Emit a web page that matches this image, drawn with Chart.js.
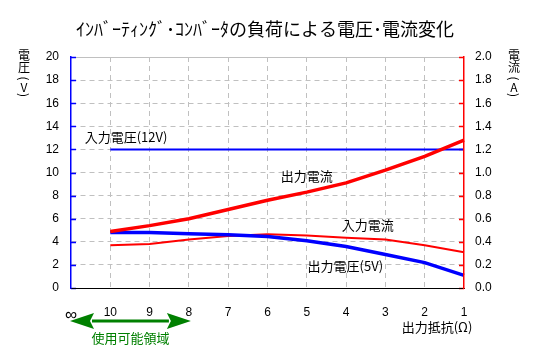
<!DOCTYPE html>
<html>
<head>
<meta charset="utf-8">
<script src="https://cdn.jsdelivr.net/npm/chart.js@4/dist/chart.umd.min.js"></script>
<style>
  html, body { margin: 0; padding: 0; background: #fff; }
</style>
</head>
<body>
<canvas id="chart" width="537" height="346"></canvas>
<script>
// load resistance (ohms) along the x axis, ∞ = no load
const LOADS = ['∞', '10', '9', '8', '7', '6', '5', '4', '3', '2', '1'];
// volts (left axis)
const V_IN = [null, 12, 12, 12, 12, 12, 12, 12, 12, 12, 12];
const V_OUT = [null, 4.8, 4.8, 4.7, 4.6, 4.45, 4.1, 3.6, 2.9, 2.2, 1.1];
// amps (right axis)
const I_OUT = [null, 0.49, 0.54, 0.6, 0.68, 0.76, 0.83, 0.91, 1.02, 1.14, 1.28];
const I_IN = [null, 0.37, 0.38, 0.42, 0.45, 0.465, 0.455, 0.435, 0.42, 0.37, 0.31];

const TITLE = 'ｲﾝﾊﾞｰﾃｨﾝｸﾞ･ｺﾝﾊﾞｰﾀの負荷による電圧･電流変化';
const V_TITLE = ['電', '圧', '(', 'V', ')'];
const I_TITLE = ['電', '流', '(', 'A', ')'];
const X_TITLE = '出力抵抗(Ω)';
const RANGE_NOTE = '使用可能領域';

// series labels placed on the chart: [text, x index, volts]
const TAGS = [
  ['入力電圧(12V)', 1.4, 13.1],
  ['出力電流', 6.0, 9.7],
  ['入力電流', 7.55, 5.45],
  ['出力電圧(5V)', 6.98, 1.9],
];

const BLUE = '#0000ff';
const RED = '#ff0000';
const GREEN = '#008000';
const GRID = '#c0c0c0';
const JP = '"Noto Sans CJK JP", sans-serif';
const NUM = '"Liberation Sans", Arial, sans-serif';

function seg(ctx, x1, y1, x2, y2) {
  ctx.beginPath();
  ctx.moveTo(x1, y1);
  ctx.lineTo(x2, y2);
  ctx.stroke();
}

// stacked vertical axis caption, brackets turned sideways
const V_ROWS = [55, 67.5, 78.5, 87.5, 95];
function vText(ctx, chars, cx) {
  chars.forEach((ch, i) => {
    ctx.save();
    ctx.translate(cx, V_ROWS[i]);
    if (/[()]/.test(ch)) ctx.rotate(Math.PI / 2);
    ctx.fillText(ch, 0, 0);
    ctx.restore();
  });
}

const overlay = {
  id: 'overlay',
  beforeDatasetsDraw(chart) {
    const { ctx, chartArea: a, scales } = chart;
    ctx.save();
    ctx.lineWidth = 1;
    ctx.strokeStyle = GRID;
    seg(ctx, a.left, a.top + 0.5, a.right, a.top + 0.5);

    // short inward ticks on both value axes
    ctx.lineWidth = 1.5;
    ctx.strokeStyle = BLUE;
    scales.y.ticks.forEach((t) => {
      const y = Math.round(scales.y.getPixelForValue(t.value)) + 0.5;
      seg(ctx, a.left, y, a.left + 5, y);
    });
    ctx.strokeStyle = RED;
    scales.y1.ticks.forEach((t) => {
      const y = Math.round(scales.y1.getPixelForValue(t.value)) + 0.5;
      seg(ctx, a.right - 5, y, a.right, y);
    });
    ctx.restore();
  },
  afterDraw(chart) {
    const { ctx, scales } = chart;
    const x = scales.x;
    const y = scales.y;
    ctx.save();
    ctx.fillStyle = '#000';
    ctx.textAlign = 'center';
    ctx.textBaseline = 'middle';

    // title
    ctx.font = '18px ' + JP;
    ctx.fillText(TITLE, 265, 29);

    // axis captions
    ctx.font = '12px ' + JP;
    vText(ctx, V_TITLE, 24);
    vText(ctx, I_TITLE, 514);
    ctx.font = '13px ' + JP;
    ctx.fillText(X_TITLE, 437, 327);

    // series tags
    TAGS.forEach(([txt, xi, v]) => {
      ctx.fillText(txt, x.getPixelForValue(xi), y.getPixelForValue(v));
    });

    // usable range arrow, ∞ .. 8 ohm
    const xa = x.getPixelForValue(0) - 1;
    const xb = x.getPixelForValue(3) + 2;
    const ya = 321;
    const hl = 24, hw = 8;
    ctx.fillStyle = GREEN;
    ctx.fillRect(xa + hl - 2, ya - 1.5, xb - xa - 2 * hl + 4, 3);
    ctx.beginPath();
    ctx.moveTo(xa, ya);
    ctx.lineTo(xa + hl, ya - hw);
    ctx.lineTo(xa + hl - 4, ya);
    ctx.lineTo(xa + hl, ya + hw);
    ctx.closePath();
    ctx.fill();
    ctx.beginPath();
    ctx.moveTo(xb, ya);
    ctx.lineTo(xb - hl, ya - hw);
    ctx.lineTo(xb - hl + 4, ya);
    ctx.lineTo(xb - hl, ya + hw);
    ctx.closePath();
    ctx.fill();
    ctx.fillText(RANGE_NOTE, (xa + xb) / 2, 338);
    ctx.restore();
  },
};

const lastIdx = LOADS.length - 1;

new Chart(document.getElementById('chart').getContext('2d'), {
  type: 'line',
  data: {
    labels: LOADS,
    datasets: [
      { label: '出力電流', data: I_OUT, yAxisID: 'y1', borderColor: RED, borderWidth: 3.5 },
      { label: '出力電圧', data: V_OUT, yAxisID: 'y', borderColor: BLUE, borderWidth: 3.5 },
      { label: '入力電流', data: I_IN, yAxisID: 'y1', borderColor: RED, borderWidth: 2 },
      { label: '入力電圧', data: V_IN, yAxisID: 'y', borderColor: BLUE, borderWidth: 2 },
    ],
  },
  options: {
    responsive: false,
    devicePixelRatio: 1,
    animation: false,
    events: [],
    layout: { padding: { top: 57, left: 0, right: 0, bottom: 0 } },
    elements: {
      point: { radius: 0 },
      line: { tension: 0, fill: false, borderCapStyle: 'butt' },
    },
    plugins: {
      legend: { display: false },
      tooltip: { enabled: false },
      title: { display: false },
    },
    scales: {
      x: {
        type: 'category',
        offset: false,
        afterFit: (s) => { s.height = 58; },
        grid: {
          color: (c) => (c.index === 0 || c.index === lastIdx ? 'rgba(0,0,0,0)' : GRID),
          drawTicks: false,
        },
        border: { color: '#000', width: 1, dash: [5, 4], z: 1 },
        ticks: {
          color: '#000',
          padding: 17,
          maxRotation: 0,
          autoSkip: false,
          font: (c) => (c.index === 0 ? { family: NUM, size: 17 } : { family: NUM, size: 12 }),
        },
      },
      y: {
        position: 'left',
        min: 0,
        max: 20,
        afterFit: (s) => { s.width = 71; },
        grid: {
          color: (c) => (c.index === 0 || c.index === 10 ? 'rgba(0,0,0,0)' : GRID),
          drawTicks: false,
        },
        border: { color: BLUE, width: 1.5, dash: [5, 4], z: 1 },
        ticks: { stepSize: 2, color: '#000', padding: 12, font: { family: NUM, size: 12 } },
      },
      y1: {
        position: 'right',
        min: 0,
        max: 2,
        afterFit: (s) => { s.width = 73; },
        grid: { drawOnChartArea: false, drawTicks: false },
        border: { color: RED, width: 1.5, z: 1 },
        ticks: {
          stepSize: 0.2,
          color: '#000',
          padding: 11,
          font: { family: NUM, size: 12 },
          callback: (v) => Number(v).toFixed(1),
        },
      },
    },
  },
  plugins: [overlay],
});
</script>
</body>
</html>
